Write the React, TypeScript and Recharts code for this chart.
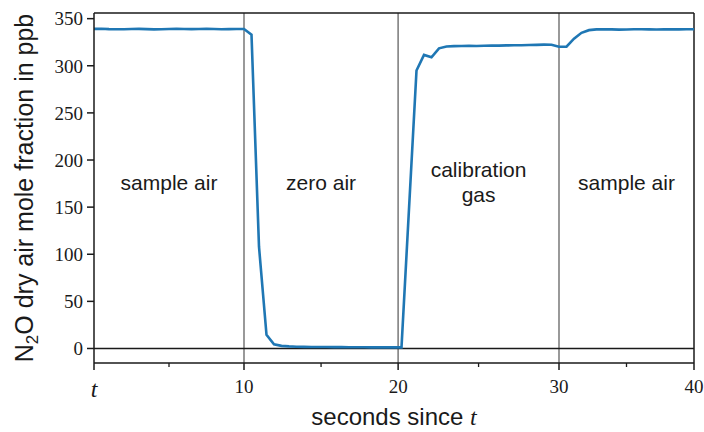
import { LineChart, Line, XAxis, YAxis, ReferenceLine, ReferenceArea } from "recharts";

// one N2O reading per sample; the x axis counts samples, null = no reading
const n2o: (number | null)[] = [
  339.2, 339.3, 338.9, 338.7, 338.8, 339.0, 339.2, 338.9, 338.6, 338.8,
  339.1, 339.2, 339.0, 338.9, 339.0, 339.2, 339.0, 338.8, 338.9, 339.0,
  339.0, 333.0, 108, 14.5, 4.5, 2.8, 2.2, 1.9, 1.7, 1.6,
  1.5, 1.5, 1.4, 1.4, 1.3, 1.3, 1.3, 1.2, 1.2, 1.2,
  1.2, 1.2, null, 295, 311.5, 309, 318.5, 320.5, 320.8, 321.0,
  321.2, 321.0, 321.3, 321.5, 321.4, 321.6, 321.8, 321.7, 322.0, 322.2,
  322.4, 322.3, 320.2, 320.2, 328.7, 335.0, 337.8, 338.6, 338.8, 338.6,
  338.4, 338.5, 338.7, 338.8, 338.6, 338.5, 338.6, 338.7, 338.6, 338.7,
  338.8,
];

// sample positions of the time ticks and what they read
const xTickPos = [0, 20, 40.55, 62, 80];
const xTickLabels = ["t", "10", "20", "30", "40"];
const yTicks = [0, 50, 100, 150, 200, 250, 300, 350];
const regionLabels = [["sample air"], ["zero air"], ["calibration", "gas"], ["sample air"]];

const X_MAX = 80;
const Y_MIN = -15.4;
const Y_MAX = 356;
const INK = "#1a1a1a";
const SANS = "'Liberation Sans', Arial, sans-serif";
const SERIF = "'Liberation Serif', 'Times New Roman', serif";

const data = n2o.map((v, i) => ({ i, v }));
const minorTicks = xTickPos.slice(1).map((p, k) => (p + xTickPos[k]) / 2);
const allXTicks = [...xTickPos, ...minorTicks].sort((a, b) => a - b);

const XTick = (props: any) => {
  const { x, y, payload } = props;
  const k = xTickPos.indexOf(payload.value);
  if (k < 0) {
    return <line x1={x} x2={x} y1={y} y2={y + 4} stroke={INK} strokeWidth={1.3} />;
  }
  const label = xTickLabels[k];
  const isT = label === "t";
  return (
    <g>
      <line x1={x} x2={x} y1={y} y2={y + 7} stroke={INK} strokeWidth={1.5} />
      <text
        x={x}
        y={isT ? y + 34 : y + 30}
        textAnchor="middle"
        fontFamily={SERIF}
        fontSize={isT ? 24 : 19}
        fontStyle={isT ? "italic" : "normal"}
        fill={INK}
      >
        {label}
      </text>
    </g>
  );
};

const YTitle = (props: any) => {
  const { viewBox } = props;
  const cx = viewBox.x + 33;
  const cy = viewBox.y + viewBox.height / 2;
  return (
    <text
      x={cx}
      y={cy}
      transform={`rotate(-90 ${cx} ${cy})`}
      textAnchor="middle"
      fontFamily={SANS}
      fontSize={25}
      fill={INK}
    >
      N<tspan fontSize={17} dy={5}>2</tspan>
      <tspan dy={-5}>O dry air mole fraction in ppb</tspan>
    </text>
  );
};

const XTitle = (props: any) => {
  const { viewBox } = props;
  return (
    <text
      x={viewBox.x + viewBox.width / 2}
      y={viewBox.y + 62}
      textAnchor="middle"
      fontFamily={SANS}
      fontSize={24}
      fill={INK}
    >
      seconds since <tspan fontFamily={SERIF} fontStyle="italic">t</tspan>
    </text>
  );
};

const RegionLabel = (props: any) => {
  const { viewBox, lines } = props;
  const cx = viewBox.x + viewBox.width / 2;
  const cy = viewBox.y + viewBox.height / 2;
  const gap = 25;
  const top = cy - ((lines.length - 1) * gap) / 2;
  return (
    <text textAnchor="middle" fontFamily={SANS} fontSize={21} fill={INK}>
      {lines.map((s: string, k: number) => (
        <tspan key={k} x={cx} y={top + k * gap} dy="0.35em">
          {s}
        </tspan>
      ))}
    </text>
  );
};

export default function App() {
  return (
    <div style={{ position: "absolute", left: 0, top: 0, width: 704, height: 432, background: "#fff" }}>
      <LineChart width={704} height={432} data={data} margin={{ top: 13, right: 10, bottom: 0, left: 0 }}>
        <XAxis
          type="number"
          dataKey="i"
          domain={[0, X_MAX]}
          ticks={allXTicks}
          interval={0}
          allowDataOverflow
          height={69}
          tickSize={0}
          tickMargin={0}
          tickLine={false}
          tick={<XTick />}
          axisLine={{ stroke: INK, strokeWidth: 1.5 }}
          label={<XTitle />}
        />
        <YAxis
          type="number"
          domain={[Y_MIN, Y_MAX]}
          ticks={yTicks}
          interval={0}
          allowDataOverflow
          width={94}
          tickSize={7}
          tickMargin={4}
          tickLine={{ stroke: INK, strokeWidth: 1.5 }}
          axisLine={{ stroke: INK, strokeWidth: 1.5 }}
          tick={{ fontFamily: SERIF, fontSize: 19, fill: INK }}
          label={<YTitle />}
        />
        {regionLabels.map((lines, k) => (
          <ReferenceArea
            key={k}
            x1={xTickPos[k]}
            x2={xTickPos[k + 1]}
            y1={150}
            y2={202}
            fillOpacity={0}
            strokeOpacity={0}
            label={<RegionLabel lines={lines} />}
          />
        ))}
        {xTickPos.slice(1, -1).map((p) => (
          <ReferenceLine key={p} x={p} stroke="#888888" strokeWidth={1.7} />
        ))}
        <ReferenceLine y={0} stroke={INK} strokeWidth={1.5} />
        <ReferenceLine y={Y_MAX} stroke={INK} strokeWidth={1.5} />
        <ReferenceLine x={X_MAX} stroke={INK} strokeWidth={1.5} />
        <Line
          type="linear"
          dataKey="v"
          stroke="#1f77b4"
          strokeWidth={2.6}
          dot={false}
          connectNulls
          isAnimationActive={false}
        />
      </LineChart>
    </div>
  );
}
